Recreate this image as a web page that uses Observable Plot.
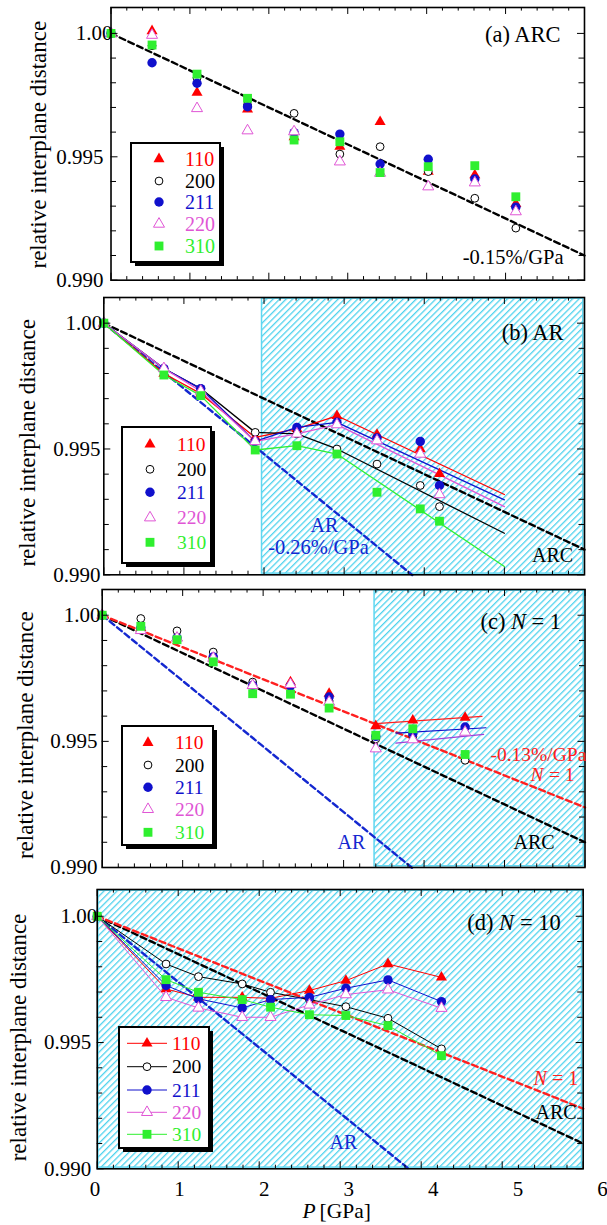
<!DOCTYPE html>
<html><head><meta charset="utf-8">
<script src="https://cdn.jsdelivr.net/npm/d3@7"></script>
<script src="https://cdn.jsdelivr.net/npm/@observablehq/plot@0.6"></script>
<style>
body{margin:0;background:#fff;}
#root{position:relative;width:607px;height:1225px;overflow:hidden;background:#fff;}
</style></head><body><div id="root"></div>
<script>
// ---------------- data ----------------
const seriesNames = ["110", "200", "211", "220", "310"];
const seriesColors = ["#ff0000", "#000000", "#1010cc", "#e055d5", "#2fef2f"];

// (a) ARC
const pA = [0, 0.52, 1.09, 1.73, 2.32, 2.90, 3.41, 4.02, 4.61, 5.13];
const a110 = [1.0000, 1.0001, 0.9976, 0.99692, 0.9958, 0.99541, 0.99642, 0.9944, 0.99426, 0.99309];
const a200 = [1.0000, 0.9995, 0.9982, 0.9971, 0.99676, 0.99511, 0.99541, 0.9944, 0.99332, 0.99211];
const a211 = [1.0000, 0.99881, 0.99798, 0.99703, 0.99598, 0.99592, 0.99471, 0.9949, 0.9941, 0.99296];
const a220 = [1.0000, 0.99993, 0.99696, 0.99606, 0.99602, 0.9948, 0.99434, 0.99379, 0.99395, 0.99278];
const a310 = [1.0000, 0.99953, 0.99835, 0.99737, 0.99568, 0.99561, 0.99436, 0.9946, 0.99464, 0.99338];

// (b) AR
const pB = [0, 0.75, 1.21, 1.89, 2.41, 2.91, 3.41, 3.95, 4.19];
const b110 = [1.0000, 0.9980, 0.9972, 0.99546, 0.9958, 0.99632, 0.99557, 0.9950, 0.99401];
const b200 = [1.0000, 0.9982, 0.9974, 0.99566, 0.9956, 0.9950, 0.9944, 0.99355, 0.99271];
const b211 = [1.0000, 0.9982, 0.9974, 0.9953, 0.99586, 0.99606, 0.99544, 0.9953, 0.99355];
const b220 = [1.0000, 0.9982, 0.9973, 0.9953, 0.9956, 0.99597, 0.99533, 0.9948, 0.99319];
const b310 = [1.0000, 0.99794, 0.99712, 0.99496, 0.99513, 0.9948, 0.99328, 0.99262, 0.99213];
const bFitEndP = 5.0;
const bFitEnd = [0.99319, 0.99165, 0.99298, 0.99271, 0.99033];
const bLinePoints = 6; // points joined before the fitted line

// (c) N = 1
const pC = [0, 0.48, 0.93, 1.38, 1.87, 2.34, 2.82, 3.40, 3.86, 4.51];
const c110 = [1.0000, 0.9995, 0.9991, 0.9983, 0.9972, 0.99735, 0.99689, 0.99561, 0.99583, 0.99594];
const c200 = [1.0000, 0.99987, 0.99938, 0.99854, 0.99735, 0.9972, 0.9966, 0.9951, 0.9952, 0.99425];
const c211 = [1.0000, 0.9995, 0.9991, 0.99835, 0.99722, 0.9972, 0.99676, 0.9952, 0.9953, 0.99557];
const c220 = [1.0000, 0.9994, 0.9991, 0.9983, 0.99722, 0.99726, 0.99656, 0.99471, 0.99507, 0.99537];
const c310 = [1.0000, 0.99956, 0.99903, 0.99815, 0.99689, 0.99687, 0.99632, 0.99524, 0.9955, 0.99448];
const cFit110 = [[3.40, 0.9957], [4.72, 0.99599]];
const cFit211 = [[3.65, 0.99533], [4.77, 0.99554]];
const cFit220 = [[3.65, 0.99493], [4.74, 0.99528]];

// (d) N = 10
const pD = [0, 0.85, 1.25, 1.79, 2.14, 2.62, 3.07, 3.59, 4.25];
const d110 = [1.0000, 0.99712, 0.99679, 0.99679, 0.99675, 0.99706, 0.99745, 0.99811, 0.99758];
const d200 = [1.0000, 0.99811, 0.99761, 0.99732, 0.99699, 0.9967, 0.99642, 0.99596, 0.99475];
const d211 = [1.0000, 0.99726, 0.99673, 0.99637, 0.9967, 0.99679, 0.99715, 0.99748, 0.99662];
const d220 = [1.0000, 0.99679, 0.99637, 0.9960, 0.9960, 0.99649, 0.9969, 0.99709, 0.99636];
const d310 = [1.0000, 0.99749, 0.99699, 0.9967, 0.9964, 0.9961, 0.99607, 0.99567, 0.99448];

// reference lines (P, value)
const arcLine = [[0, 1.0], [6, 0.991]];      // -0.15 %/GPa
const arLine = [[0, 1.0], [3.85, 0.98999]];  // -0.26 %/GPa
const n1Line = [[0, 1.0], [6, 0.99238]];     // -0.13 %/GPa

// shaded ranges (P)
const hatchB = [1.96, 6];
const hatchC = [3.37, 6];
const hatchD = [0, 6];

// axis ticks
const xMajor = [0, 1, 2, 3, 4, 5, 6];
const xMinor = d3.range(0, 31).map(i => i / 5).filter(v => v % 1 !== 0);
const yMajor = [0.990, 0.995, 1.000];
const yMinor = [0.991, 0.992, 0.993, 0.994, 0.996, 0.997, 0.998, 0.999];
const xLabels = [0, 1, 2, 3, 4, 5, 6];

// ---------------- drawing ----------------
const W = 607;
const FONT = '"Liberation Serif","Times New Roman","DejaVu Serif",serif';
const root = document.getElementById("root");

const rowsOf = (P, vals) => P.map((p, j) => ({P: p, v: vals[j]}));
const pairRows = (pairs) => pairs.map(d => ({P: d[0], v: d[1]}));

function symOpts(i) {
  const c = seriesColors[i];
  switch (i) {
    case 0: return {symbol: "triangle", fill: c, stroke: "none", r: 4.1};
    case 1: return {symbol: "circle", fill: "white", stroke: c, strokeWidth: 1, r: 3.9};
    case 2: return {symbol: "circle", fill: c, stroke: "none", r: 4.7};
    case 3: return {symbol: "triangle", fill: "white", stroke: c, strokeWidth: 1, r: 4.1};
    default: return {symbol: "square", fill: c, stroke: "none", r: 5};
  }
}
function dotMarks(P, arrs) {
  return arrs.map((vals, i) => Plot.dot(rowsOf(P, vals), {x: "P", y: "v", ...symOpts(i)}));
}
function dashed(pairs, color) {
  return Plot.line(pairRows(pairs), {x: "P", y: "v", stroke: color, strokeWidth: 2.4, strokeDasharray: "6,3.6"});
}

function panel(g) {
  const pad = 12;
  const innerW = g.right - g.left, innerH = g.bottom - g.top;
  const ann = (text, x, y, o = {}) => Plot.text([text], {
    text: d => d, frameAnchor: "top-left", dx: x - g.left, dy: y - g.top,
    lineAnchor: "middle", textAnchor: o.anchor || "start", fill: o.fill || "black",
    fontSize: o.size || 20, fontStyle: o.italic ? "italic" : "normal", rotate: o.rotate || 0
  });
  const marks = [];
  if (g.hatch) {
    marks.push(Plot.rect([{x1: g.hatch[0], x2: g.hatch[1], y1: 0.990, y2: g.yTop}],
      {x1: "x1", x2: "x2", y1: "y1", y2: "y2", fill: `url(#${g.id})`, stroke: "#5fd6f0", strokeWidth: 1.5, inset: 1.2}));
  }
  marks.push(...g.marks);
  marks.push(
    Plot.tickX(xMajor, {x: d => d, insetTop: innerH - 7, stroke: "black"}),
    Plot.tickX(xMajor, {x: d => d, insetBottom: innerH - 7, stroke: "black"}),
    Plot.tickX(xMinor, {x: d => d, insetTop: innerH - 3.6, stroke: "black"}),
    Plot.tickX(xMinor, {x: d => d, insetBottom: innerH - 3.6, stroke: "black"}),
    Plot.tickY(yMajor, {y: d => d, insetRight: innerW - 7, stroke: "black"}),
    Plot.tickY(yMajor, {y: d => d, insetLeft: innerW - 7, stroke: "black"}),
    Plot.tickY(yMinor, {y: d => d, insetRight: innerW - 5.5, stroke: "black"}),
    Plot.tickY(yMinor, {y: d => d, insetLeft: innerW - 5.5, stroke: "black"}),
    Plot.frame({stroke: "black", strokeWidth: 1.6}),
    Plot.text([0.990, 0.995], {y: d => d, text: d => d.toFixed(3), frameAnchor: "left", dx: g.ldx, textAnchor: "end", fontSize: 21}),
    Plot.text([1.0], {y: d => d, text: d => d.toFixed(2), frameAnchor: "left", dx: g.ldx1, textAnchor: "end", fontSize: 21}),
    ann("relative interplane distance", g.titleX, g.titleY, {anchor: "middle", size: 23, rotate: -90})
  );
  for (const a of g.anns) marks.push(ann(a[0], a[1], a[2], a[3] || {}));
  const svg = Plot.plot({
    width: W, height: innerH + 2 * pad,
    marginLeft: g.left, marginRight: W - g.right, marginTop: pad, marginBottom: pad,
    x: {domain: [0, 6], axis: null},
    y: {domain: [0.990, g.yTop], axis: null},
    style: {background: "transparent", overflow: "visible", fontFamily: FONT, color: "black"},
    marks
  });
  if (g.hatch) {
    const defs = d3.select(svg).insert("defs", ":first-child");
    const pat = defs.append("pattern").attr("id", g.id).attr("patternUnits", "userSpaceOnUse")
      .attr("width", 4.6).attr("height", 10).attr("patternTransform", "rotate(45)");
    pat.append("rect").attr("width", 4.6).attr("height", 10).attr("fill", "white");
    pat.append("rect").attr("width", 1.3).attr("height", 10).attr("fill", "#4fd3ee");
  }
  svg.style.position = "absolute";
  svg.style.left = "0px";
  svg.style.top = (g.top - pad) + "px";
  root.appendChild(svg);
}

const RED = "#ff2020", BLUE = "#1428d0";

// (a)
panel({
  id: "hA", left: 110.5, right: 584, top: 7.3, bottom: 280, yTop: 1.00105, ldx: -7.5, ldx1: 1.5,
  titleX: 38, titleY: 144.5,
  marks: [dashed(arcLine, "black"), ...dotMarks(pA, [a110, a200, a211, a220, a310])],
  anns: [["(a) ARC", 560, 35, {anchor: "end", size: 22.5}], ["-0.15%/GPa", 563, 257, {anchor: "end", size: 20.5}]]
});

// (b)
const bArrs = [b110, b200, b211, b220, b310];
panel({
  id: "hB", left: 103.3, right: 584, top: 296.7, bottom: 574, yTop: 1.00102, ldx: -3.3, ldx1: -1.6,
  titleX: 27, titleY: 442, hatch: hatchB,
  marks: [
    dashed(arcLine, "black"), dashed(arLine, BLUE),
    ...bArrs.map((vals, i) => Plot.line(
      [...rowsOf(pB.slice(0, bLinePoints), vals.slice(0, bLinePoints)), {P: bFitEndP, v: bFitEnd[i]}],
      {x: "P", y: "v", stroke: seriesColors[i], strokeWidth: 1.3})),
    ...dotMarks(pB, bArrs)
  ],
  anns: [["(b) AR", 563, 332, {anchor: "end", size: 22.5}],
         ["AR", 324, 525, {anchor: "middle", fill: BLUE}],
         ["-0.26%/GPa", 318, 547, {anchor: "middle", fill: BLUE, size: 20.5}],
         ["ARC", 552, 555, {anchor: "middle"}]]
});

// (c)
panel({
  id: "hC", left: 101.7, right: 584.5, top: 589.3, bottom: 867.3, yTop: 1.00102, ldx: -4.8, ldx1: -1.7,
  titleX: 25, titleY: 735, hatch: hatchC,
  marks: [
    dashed(arcLine, "black"), dashed(arLine, BLUE), dashed(n1Line, RED),
    Plot.line(pairRows(cFit110), {x: "P", y: "v", stroke: "#ff2020", strokeWidth: 1.2}),
    Plot.line(pairRows(cFit211), {x: "P", y: "v", stroke: "#1010cc", strokeWidth: 1.2}),
    Plot.line(pairRows(cFit220), {x: "P", y: "v", stroke: "#a040d8", strokeWidth: 1.2}),
    ...dotMarks(pC, [c110, c200, c211, c220, c310])
  ],
  anns: [["(c)", 480, 622, {size: 22.5}], ["N", 510.5, 622, {size: 22.5, italic: true}], ["= 1", 531, 622, {size: 22.5}],
         ["-0.13%/GPa", 490, 755, {fill: RED, size: 19.5}],
         ["N", 530, 775, {fill: RED, italic: true, size: 19.5}], ["= 1", 548.5, 775, {fill: RED, size: 19.5}],
         ["AR", 337, 842, {fill: BLUE}], ["ARC", 513, 842, {}]]
});

// (d)
const dArrs = [d110, d200, d211, d220, d310];
panel({
  id: "hD", left: 96.7, right: 582.7, top: 889, bottom: 1168.3, yTop: 1.00106, ldx: -6, ldx1: 0,
  titleX: 18.5, titleY: 1037, hatch: hatchD,
  marks: [
    dashed(arcLine, "black"), dashed(arLine, BLUE), dashed(n1Line, RED),
    ...dArrs.map((vals, i) => Plot.line(rowsOf(pD, vals), {x: "P", y: "v", stroke: seriesColors[i], strokeWidth: 1})),
    ...dotMarks(pD, dArrs)
  ],
  anns: [["(d)", 466.7, 922, {size: 22.5}], ["N", 498.6, 922, {size: 22.5, italic: true}], ["= 10", 519.5, 922, {size: 22.5}],
         ["N", 533, 1078, {fill: RED, italic: true}], ["= 1", 551.5, 1078, {fill: RED}],
         ["ARC", 535, 1112, {}], ["AR", 329, 1142, {fill: BLUE}]]
});

// shared x tick labels + title
{
  const svg = Plot.plot({
    width: W, height: 50, marginLeft: 94.5, marginRight: W - 602, marginTop: 0, marginBottom: 0,
    x: {domain: [0, 6], axis: null}, y: {axis: null},
    style: {background: "transparent", overflow: "visible", fontFamily: FONT, color: "black"},
    marks: [
      Plot.text(xLabels, {x: d => d, text: d => String(d), frameAnchor: "top", dy: 14, lineAnchor: "middle", fontSize: 21}),
      Plot.text(["P"], {text: d => d, frameAnchor: "top-left", dx: 302 - 94.5, dy: 36, lineAnchor: "middle", textAnchor: "start", fontSize: 21.5, fontStyle: "italic"}),
      Plot.text(["[GPa]"], {text: d => d, frameAnchor: "top-left", dx: 319 - 94.5, dy: 36, lineAnchor: "middle", textAnchor: "start", fontSize: 21.5})
    ]
  });
  svg.style.position = "absolute"; svg.style.left = "0px"; svg.style.top = "1175px";
  root.appendChild(svg);
}

// legends
{
  const legends = [
    {x: 131, y: 143, w: 89, h: 119, mx: 159, tx: 185, rows: [159, 181, 202, 224, 246], fs: 20},
    {x: 122, y: 427, w: 89, h: 136, mx: 150, tx: 177, rows: [444.3, 469.3, 492.3, 517.7, 542.3], fs: 19.5},
    {x: 122, y: 726, w: 91, h: 119, mx: 148, tx: 175, rows: [742.7, 765, 787.3, 809.3, 832.3], fs: 19.5},
    {x: 119, y: 1027, w: 90, h: 121, mx: 147, tx: 172, rows: [1043.3, 1066.7, 1090, 1112.3, 1134.3], fs: 19.5, line: [127, 167]}
  ];
  const svg = d3.create("svg").attr("width", W).attr("height", 1225)
    .style("position", "absolute").style("left", "0px").style("top", "0px").style("font-family", FONT);
  const symbols = {triangle: d3.symbolTriangle, circle: d3.symbolCircle, square: d3.symbolSquare};
  for (const L of legends) {
    svg.append("rect").attr("x", L.x + 4).attr("y", L.y + 4).attr("width", L.w).attr("height", L.h).attr("fill", "black");
    svg.append("rect").attr("x", L.x).attr("y", L.y).attr("width", L.w).attr("height", L.h)
      .attr("fill", "white").attr("stroke", "black").attr("stroke-width", 2);
    seriesNames.forEach((name, i) => {
      const s = symOpts(i), yy = L.rows[i];
      if (L.line) svg.append("line").attr("x1", L.line[0]).attr("x2", L.line[1]).attr("y1", yy).attr("y2", yy)
        .attr("stroke", seriesColors[i]).attr("stroke-width", 1);
      svg.append("path").attr("d", d3.symbol(symbols[s.symbol], Math.PI * s.r * s.r)())
        .attr("transform", `translate(${L.mx},${yy})`)
        .attr("fill", s.fill).attr("stroke", s.stroke).attr("stroke-width", s.strokeWidth || 0);
      svg.append("text").attr("x", L.tx).attr("y", yy).attr("dy", "0.34em")
        .attr("fill", seriesColors[i]).attr("font-size", L.fs).text(name);
    });
  }
  root.appendChild(svg.node());
}
</script>
</body></html>
